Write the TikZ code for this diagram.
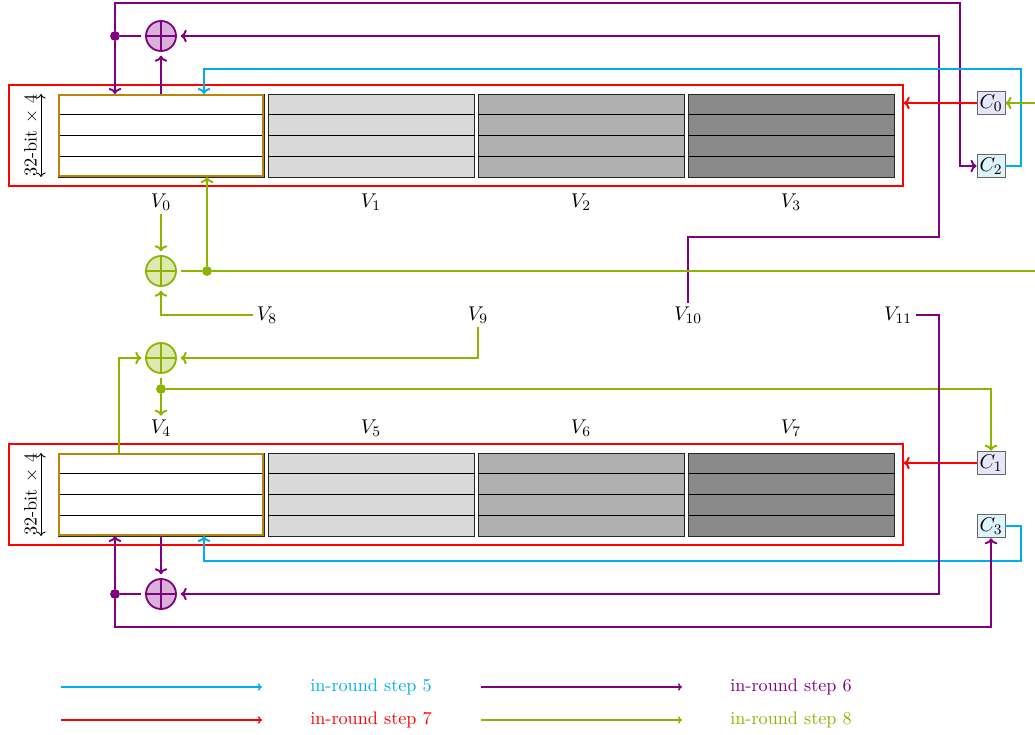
\documentclass[tikz,border=0pt]{standalone}
\usetikzlibrary{calc,arrows.meta}
\definecolor{cy}{RGB}{0,174,239}
\definecolor{pu}{RGB}{128,0,128}
\definecolor{gr}{RGB}{140,180,0}
\definecolor{gold}{RGB}{184,134,11}
\definecolor{gA}{RGB}{217,217,217}
\definecolor{gB}{RGB}{176,176,176}
\definecolor{gC}{RGB}{138,138,138}
\definecolor{lav}{RGB}{230,230,250}
\definecolor{lcy}{RGB}{222,244,252}
\begin{document}
\begin{tikzpicture}[x=0.55pt,y=-0.55pt,
  >={To[scale=0.85]},
  cell/.style={draw=black!85, line width=0.5pt, minimum width=113.3pt, minimum height=45.65pt, inner sep=0pt, outer sep=0pt},
  reg/.style={draw=red, line width=0.8pt, minimum width=491.7pt, minimum height=55.55pt, inner sep=0pt},
  rowline/.style={draw=black, line width=0.6pt},
  xorgate/.style={circle, draw=#1, fill=#1!30, line width=1pt, minimum size=16.5pt, inner sep=0pt, outer sep=2.6pt,
    path picture={\draw[#1, line width=1pt] (path picture bounding box.north) -- (path picture bounding box.south)
      (path picture bounding box.west) -- (path picture bounding box.east);}},
  dotnode/.style={circle, fill=#1, minimum size=5.4pt, inner sep=0pt},
  cbox/.style={draw=black!60, line width=0.5pt, fill=#1, minimum width=15.4pt, minimum height=13pt, inner sep=0.3pt, font=\fontsize{11}{13}\selectfont},
  wire/.style={line width=1.05pt, draw=#1},
  legwire/.style={line width=0.8pt, draw=#1, -{To[length=2.2pt,width=4pt]}},
  lab/.style={inner sep=2pt, font=\fontsize{11}{13}\selectfont},
]
\useasboundingbox (0,0) rectangle (1035,735);

% registers
\node[reg] (reg0) at (456,135.5) {};
\node[reg] (reg1) at (456,494.5) {};

\node[cell, fill=white] (c0) at (161,135.5) {};
\node[cell, fill=gA] (c1) at (371,135.5) {};
\node[cell, fill=gB] (c2) at (581,135.5) {};
\node[cell, fill=gC] (c3) at (791,135.5) {};
\node[cell, fill=white] (c4) at (161,494.5) {};
\node[cell, fill=gA] (c5) at (371,494.5) {};
\node[cell, fill=gB] (c6) at (581,494.5) {};
\node[cell, fill=gC] (c7) at (791,494.5) {};
\foreach \c in {c0,c1,c2,c3,c4,c5,c6,c7}
  \foreach \f in {0.25,0.5,0.75}
    \draw[rowline] ($(\c.north west)!\f!(\c.south west)$) -- ($(\c.north east)!\f!(\c.south east)$);
\draw[gold, line width=1pt] ($(c0.north west)+(1,1)$) rectangle ($(c0.south east)+(-1,-1)$);
\draw[gold, line width=1pt] ($(c4.north west)+(1,1)$) rectangle ($(c4.south east)+(-1,-1)$);

% size annotations
\node[rotate=90] (sz0) at (31,135.5) {32-bit $\times$ 4};
\node[rotate=90] (sz1) at (31,494.5) {32-bit $\times$ 4};
\coordinate (s0a) at (41,94); \coordinate (s0b) at (41,177);
\coordinate (s1a) at (41,453); \coordinate (s1b) at (41,536);
\draw[{To[length=2.5pt]}-{To[length=2.5pt]}, line width=0.5pt] (s0a) -- (s0b);
\draw[{To[length=2.5pt]}-{To[length=2.5pt]}, line width=0.5pt] (s1a) -- (s1b);

% labels
\node[lab] (l0) at (161,202) {$V_0$};
\node[lab] (l1) at (371,202) {$V_1$};
\node[lab] (l2) at (581,202) {$V_2$};
\node[lab] (l3) at (791,202) {$V_3$};
\node[lab] (l4) at (161,428) {$V_4$};
\node[lab] (l5) at (371,428) {$V_5$};
\node[lab] (l6) at (581,428) {$V_6$};
\node[lab] (l7) at (791,428) {$V_7$};
\node[lab] (l8) at (267,315) {$V_8$};
\node[lab] (l9) at (478,315) {$V_9$};
\node[lab] (l10) at (688,315) {$V_{10}$};
\node[lab] (l11) at (898,315) {$V_{11}$};

% constants
\node[cbox=lav] (C0) at (991,103) {$C_0$};
\node[cbox=lcy] (C2) at (991,166) {$C_2$};
\node[cbox=lav] (C1) at (991,463) {$C_1$};
\node[cbox=lcy] (C3) at (991,526) {$C_3$};

% xor gates
\node[xorgate=pu] (xp1) at (161,36) {};
\node[xorgate=gr] (xg1) at (161,271) {};
\node[xorgate=gr] (xg2) at (161,358) {};
\node[xorgate=pu] (xp2) at (161,594) {};

% dots
\node[dotnode=pu] (pd1) at (115,36) {};
\node[dotnode=gr] (gd1) at (207,271) {};
\node[dotnode=gr] (gd2) at (161,389) {};
\node[dotnode=pu] (pd2) at (115,594) {};

% corner coordinates
\coordinate (t1) at (960,3);
\coordinate (m2) at (939,237);
\coordinate (k1) at (1021,69);
\coordinate (k2) at (204,69);
\coordinate (k3) at (1021,561);
\coordinate (k4) at (204,561);
\coordinate (b1) at (991,627);
\coordinate (m1) at (939,594);
\coordinate (e1) at (1035,271);
\coordinate (e2) at (1035,103);
\coordinate (g4) at (119,453);

% step 6 (purple), top
\draw[wire=pu] (xp1.west) -- (pd1);
\draw[wire=pu,->] (pd1) -- (pd1 |- c0.north);
\draw[wire=pu,->] (pd1) |- (t1) |- (C2.west);
\draw[wire=pu,->] (c0.north) -- (xp1.south);
\draw[wire=pu,->] (l10.north) |- (m2) |- (xp1.east);

% step 5 (cyan), top
\draw[wire=cy,->] (C2.east) -| (k1) -- (k2) -- (k2 |- c0.north);

% step 7 (red)
\draw[wire=red,->] (C0.west) -- (C0.west -| reg0.east);
\draw[wire=red,->] (C1.west) -- (C1.west -| reg1.east);

% step 8 (green)
\draw[wire=gr,->] (l0.south) -- (xg1.north);
\draw[wire=gr,->] (l8.west) -| (xg1.south);
\draw[wire=gr] (xg1.east) -- (gd1) -- (e1);
\draw[wire=gr,->] (gd1) -- (gd1 |- c0.south);
\draw[wire=gr,->] (e2) -- (C0.east);
\draw[wire=gr,->] (l9.south) |- (xg2.east);
\draw[wire=gr,->] (g4) |- (xg2.west);
\draw[wire=gr] (xg2.south) -- (gd2);
\draw[wire=gr,->] (gd2) -- (l4.north);
\draw[wire=gr,->] (gd2) -| (C1.north);

% step 5 (cyan), bottom
\draw[wire=cy,->] (C3.east) -| (k3) -- (k4) -- (k4 |- c4.south);

% step 6 (purple), bottom
\draw[wire=pu,->] (c4.south) -- (xp2.north);
\draw[wire=pu] (xp2.west) -- (pd2);
\draw[wire=pu,->] (pd2) -- (pd2 |- c4.south);
\draw[wire=pu,->] (pd2) |- (b1) -- (C3.south);
\draw[wire=pu,->] (l11.east) -| (m1) -- (xp2.east);

% legend
\coordinate (la1) at (61,687); \coordinate (la2) at (262,687);
\coordinate (lb1) at (481,687); \coordinate (lb2) at (682,687);
\coordinate (lc1) at (61,720); \coordinate (lc2) at (262,720);
\coordinate (ld1) at (481,720); \coordinate (ld2) at (682,720);
\draw[legwire=cy] (la1) -- (la2);
\draw[legwire=pu] (lb1) -- (lb2);
\draw[legwire=red] (lc1) -- (lc2);
\draw[legwire=gr] (ld1) -- (ld2);
\node[text=cy] (ta) at (371,687) {in-round step 5};
\node[text=pu] (tb) at (791,687) {in-round step 6};
\node[text=red] (tc) at (371,720) {in-round step 7};
\node[text=gr] (td) at (791,720) {in-round step 8};
\end{tikzpicture}
\end{document}
